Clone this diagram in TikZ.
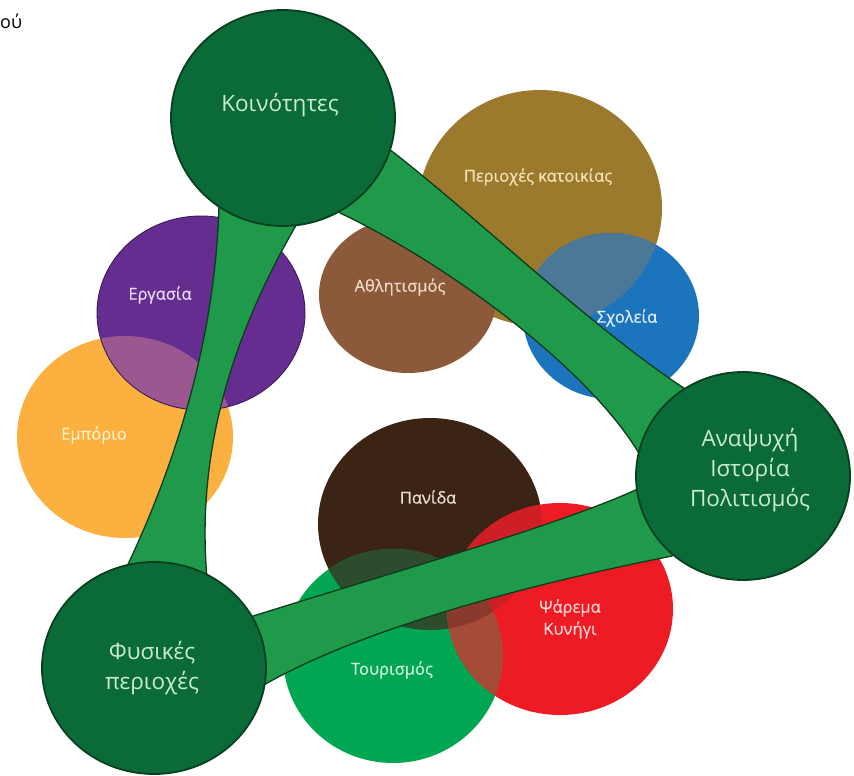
\documentclass[tikz,border=0pt]{standalone}
\usepackage{fontspec}
\setmainfont{Open Sans}
\newfontfamily\labfont[FakeBold=0.5]{Open Sans}
\usetikzlibrary{shapes.geometric}
\definecolor{bigfill}{HTML}{0B6B38}
\definecolor{bigline}{HTML}{07401F}
\definecolor{bandfill}{HTML}{1F9A4A}
\definecolor{bandline}{HTML}{0E3B1C}
\definecolor{biglabelc}{HTML}{C9EBD3}
\definecolor{cKat}{HTML}{9C7A2D}
\definecolor{cAth}{HTML}{8C5A3B}
\definecolor{cSch}{HTML}{1C75BC}
\definecolor{cErg}{HTML}{662D91}
\definecolor{cErgLine}{HTML}{3B1A55}
\definecolor{cEmp}{HTML}{FBB040}
\definecolor{cPan}{HTML}{3C2415}
\definecolor{cTour}{HTML}{00A651}
\definecolor{cFish}{HTML}{ED1C24}
\definecolor{cErgEmp}{HTML}{9B5890}
\definecolor{cKatSch}{HTML}{4B7896}
\definecolor{cPanTour}{HTML}{2D4B2D}
\definecolor{cPanFish}{HTML}{D01E27}
\definecolor{cTourFish}{HTML}{A54B37}
\definecolor{cTriple}{HTML}{8A3A2C}
\definecolor{tKat}{HTML}{F3E2B5}
\definecolor{tAth}{HTML}{F2D9C4}
\definecolor{tSch}{HTML}{DCEEFA}
\definecolor{tErg}{HTML}{EADCF2}
\definecolor{tEmp}{HTML}{FFF1C9}
\definecolor{tPan}{HTML}{EADFD5}
\definecolor{tFish}{HTML}{F9D2D2}
\definecolor{tTour}{HTML}{CFF2DC}
\begin{document}
\begin{tikzpicture}[x=1pt,y=-1pt,
  big/.style={ellipse, draw=bigline, line width=1.8pt, fill=bigfill, inner sep=0pt},
  band/.style={fill=bandfill, draw=bandline, line width=1.3pt, line join=round},
  biglabel/.style={text=biglabelc, font=\fontsize{22.5}{30}\selectfont, align=center},
  lab/.style={font=\labfont\fontsize{16.5}{22}\selectfont, align=center}]
\useasboundingbox (0,0) rectangle (854,776);
\fill[white] (0,0) rectangle (854,776);

% coloured circles
\fill[cEmp] (125,437) ellipse [x radius=108, y radius=101];
\fill[cErg] (201,313) ellipse [x radius=104, y radius=97];
\begin{scope}
  \clip (125,437) ellipse [x radius=108, y radius=101];
  \fill[cErgEmp] (201,313) ellipse [x radius=104, y radius=97];
\end{scope}
\draw[cErgLine, line width=0.9pt] (201,313) ellipse [x radius=104, y radius=97];

\fill[cKat] (540,208) ellipse [x radius=122, y radius=118];
\fill[cAth] (408,295) ellipse [x radius=89, y radius=78];
\fill[cSch] (611,316) ellipse [x radius=88, y radius=83];
\begin{scope}
  \clip (540,208) ellipse [x radius=122, y radius=118];
  \fill[cKatSch] (611,316) ellipse [x radius=88, y radius=83];
\end{scope}

\fill[cPan] (430,524) ellipse [x radius=112, y radius=106];
\fill[cTour] (393,656) ellipse [x radius=110, y radius=107];
\fill[cFish] (560,609) ellipse [x radius=113, y radius=106];
\begin{scope}
  \clip (430,524) ellipse [x radius=112, y radius=106];
  \fill[cPanTour] (393,656) ellipse [x radius=110, y radius=107];
  \fill[cPanFish] (560,609) ellipse [x radius=113, y radius=106];
\end{scope}
\begin{scope}
  \clip (393,656) ellipse [x radius=110, y radius=107];
  \fill[cTourFish] (560,609) ellipse [x radius=113, y radius=106];
  \clip (430,524) ellipse [x radius=112, y radius=106];
  \fill[cTriple] (560,609) ellipse [x radius=113, y radius=106];
\end{scope}

% bands
\filldraw[band] (232,160) -- (219,205) .. controls (216,320) and (185,450) .. (118,585)
  -- (150,640) -- (207,578) .. controls (195,440) and (240,320) .. (302,215)
  -- (290,160) -- cycle;
\filldraw[band] (360,130) -- (393,152) .. controls (480,220) and (600,335) .. (690,392)
  -- (720,430) -- (640,455) .. controls (590,370) and (450,265) .. (340,213)
  -- (320,180) -- cycle;
\filldraw[band] (200,640) -- (262,686) .. controls (350,635) and (500,590) .. (672,556)
  -- (700,510) -- (660,482) -- (640,488) .. controls (560,525) and (400,570) .. (250,617)
  -- cycle;

% big circles
\node[big, minimum width=224pt, minimum height=216pt] (koin) at (283,118) {};
\node[big, minimum width=214pt, minimum height=208pt] (anap) at (743,476) {};
\node[big, minimum width=224pt, minimum height=212pt] (fys) at (154,668) {};

% labels
\node[biglabel] (lkoin) at (280,105) {Κοινότητες};
\node[biglabel] (lanap) at (750,470) {Αναψυχή\\Ιστορία\\Πολιτισμός};
\node[biglabel] (lfys) at (152,668) {Φυσικές\\περιοχές};

\node[lab, text=tKat] (lkat) at (538,177) {Περιοχές κατοικίας};
\node[lab, text=tAth] (lath) at (400,287) {Αθλητισμός};
\node[lab, text=tSch] (lsch) at (627,318) {Σχολεία};
\node[lab, text=tErg] (lerg) at (160,295) {Εργασία};
\node[lab, text=tEmp] (lemp) at (94,435) {Εμπόριο};
\node[lab, text=tPan] (lpan) at (428,497) {Πανίδα};
\node[lab, text=tFish] (lfish) at (570,619) {Ψάρεμα\\Κυνήγι};
\node[lab, text=tTour] (ltour) at (392,670) {Τουρισμός};

\node[anchor=base west, inner sep=0pt, font=\fontsize{18}{22}\selectfont] (corner) at (0,29) {ού};
\end{tikzpicture}
\end{document}
